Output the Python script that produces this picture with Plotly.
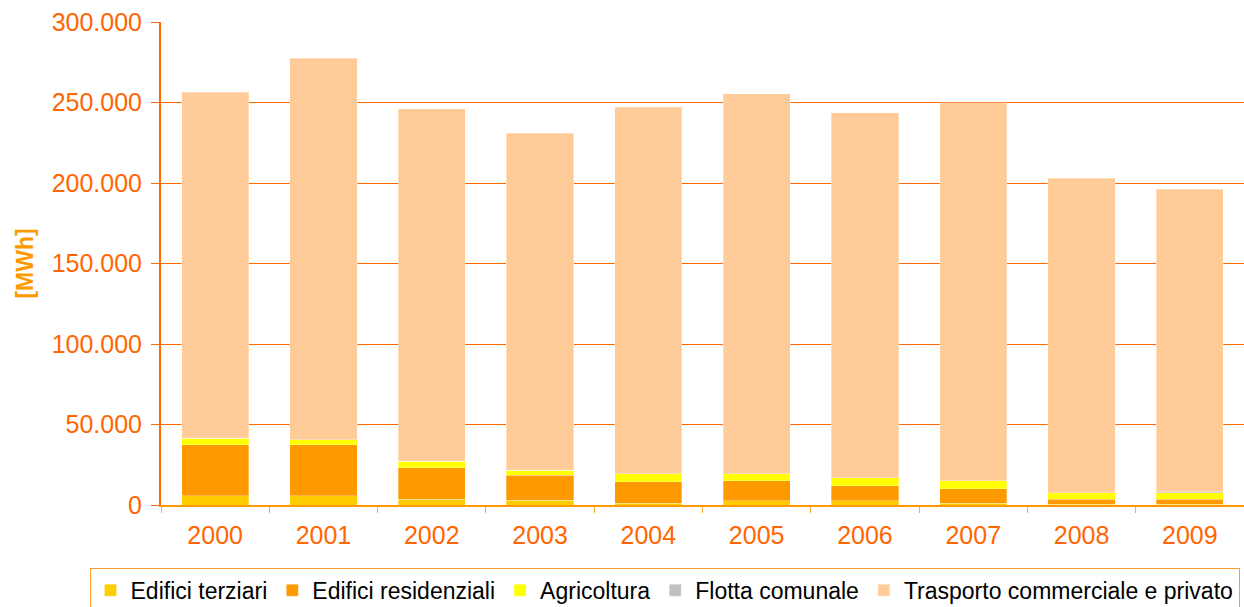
import plotly.graph_objects as go

years = ["2000", "2001", "2002", "2003", "2004", "2005", "2006", "2007", "2008", "2009"]
terziari = [5600, 5600, 3700, 3100, 1200, 2500, 2500, 1000, 500, 500]
residenziali = [31700, 31700, 19500, 15300, 13300, 12600, 9500, 9100, 3200, 3200]
agricoltura = [4300, 3200, 4100, 3300, 4900, 4300, 5000, 5000, 3900, 3800]
flotta = [0, 0, 0, 0, 0, 0, 0, 0, 0, 600]
totali = [256500, 277600, 246000, 231000, 247000, 255300, 243500, 249700, 203000, 196000]
trasporto = [t - a - b - c - d for t, a, b, c, d in zip(totali, terziari, residenziali, agricoltura, flotta)]

series = [
    ("Edifici terziari", terziari, "#FFCC00"),
    ("Edifici residenziali", residenziali, "#FF9900"),
    ("Agricoltura", agricoltura, "#FFFF00"),
    ("Flotta comunale", flotta, "#C0C0C0"),
    ("Trasporto commerciale e privato", trasporto, "#FFCC99"),
]

fig = go.Figure()
for name, vals, col in series:
    fig.add_trace(go.Bar(x=years, y=vals, name=name,
                         marker=dict(color=col, line=dict(color="rgba(255,255,255,0.6)", width=0.5))))

font = "Liberation Sans, Arial, sans-serif"
fig.update_layout(
    width=1244, height=607,
    barmode="stack", bargap=0.38,
    separators=",.",
    paper_bgcolor="white", plot_bgcolor="white",
    margin=dict(l=161, r=0, t=22, b=102, autoexpand=False),
    font=dict(family=font),
    showlegend=True,
    legend=dict(orientation="h", x=-0.066, y=-0.130, xanchor="left", yanchor="top",
                traceorder="normal", bordercolor="#FF9933", borderwidth=1,
                font=dict(size=23, color="black", family=font),
                itemwidth=30, tracegroupgap=0),
    xaxis=dict(type="category", tickfont=dict(size=25, color="#FF6600"),
               showline=True, linecolor="#FF9900", linewidth=2,
               ticks="outside", tickson="boundaries", ticklen=6, tickcolor="#FFAA33",
               ticklabelstandoff=7,
               showgrid=False, automargin=False),
    yaxis=dict(range=[0, 300000], tickvals=[0, 50000, 100000, 150000, 200000, 250000, 300000],
               tickformat=",d", tickfont=dict(size=25, color="#FF6600"),
               showline=True, linecolor="#FF6600", linewidth=2,
               ticks="outside", ticklen=8, tickcolor="#FF6600",
               ticklabelstandoff=4,
               showgrid=True, gridcolor="#FF6600", gridwidth=1, zeroline=False,
               automargin=False,
               title=dict(text="<b>[MWh]</b>", font=dict(size=23, color="#FF9900"), standoff=12)),
)

fig.write_html("out.html", config={"displayModeBar": False},
               post_script="document.body.style.margin='0px';document.body.style.overflow='hidden';")
